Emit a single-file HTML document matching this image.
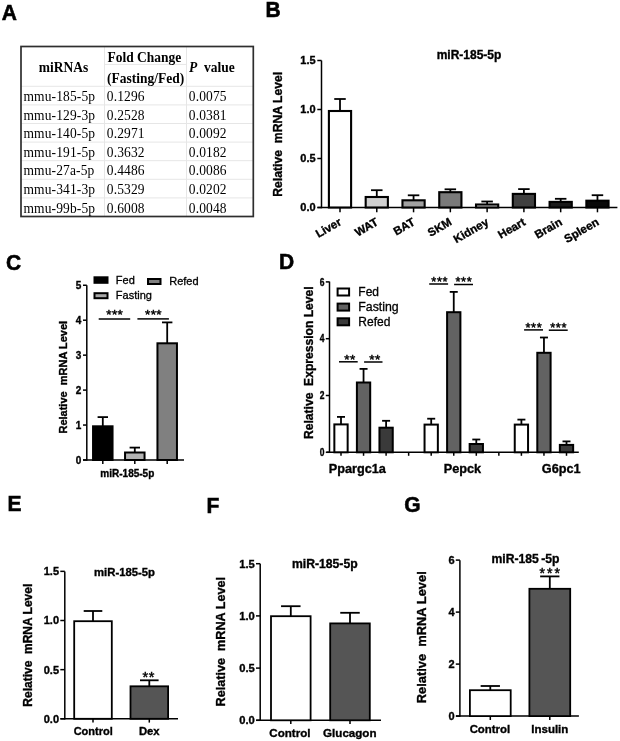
<!DOCTYPE html>
<html><head><meta charset="utf-8"><style>
html,body{margin:0;padding:0;background:#fff;width:620px;height:741px;overflow:hidden}
svg{display:block;will-change:transform;filter:blur(0.3px)}
</style></head><body>
<svg width="620" height="741" viewBox="0 0 620 741" style="white-space:pre">
<rect width="620" height="741" fill="#fff"/>
<text transform="translate(1.8,19.6) scale(1,1.06)" font-family="Liberation Sans" font-size="21" font-weight="bold" text-anchor="start" fill="#000" stroke="#000" stroke-width="0.55">A</text>
<text transform="translate(265.5,17.3) scale(1,1.06)" font-family="Liberation Sans" font-size="21" font-weight="bold" text-anchor="start" fill="#000" stroke="#000" stroke-width="0.55">B</text>
<text transform="translate(6,270) scale(1,1.06)" font-family="Liberation Sans" font-size="21" font-weight="bold" text-anchor="start" fill="#000" stroke="#000" stroke-width="0.55">C</text>
<text transform="translate(279,269.3) scale(1,1.06)" font-family="Liberation Sans" font-size="21" font-weight="bold" text-anchor="start" fill="#000" stroke="#000" stroke-width="0.55">D</text>
<text transform="translate(7.5,510.5) scale(1,1.06)" font-family="Liberation Sans" font-size="21" font-weight="bold" text-anchor="start" fill="#000" stroke="#000" stroke-width="0.55">E</text>
<text transform="translate(206.5,512.6) scale(1,1.06)" font-family="Liberation Sans" font-size="21" font-weight="bold" text-anchor="start" fill="#000" stroke="#000" stroke-width="0.55">F</text>
<text transform="translate(404.3,511.5) scale(1,1.06)" font-family="Liberation Sans" font-size="21" font-weight="bold" text-anchor="start" fill="#000" stroke="#000" stroke-width="0.55">G</text>
<line x1="21" y1="104.89999999999999" x2="253.3" y2="104.89999999999999" stroke="#e6e6e6" stroke-width="1"/>
<line x1="21" y1="123.5" x2="253.3" y2="123.5" stroke="#e6e6e6" stroke-width="1"/>
<line x1="21" y1="142.1" x2="253.3" y2="142.1" stroke="#e6e6e6" stroke-width="1"/>
<line x1="21" y1="160.7" x2="253.3" y2="160.7" stroke="#e6e6e6" stroke-width="1"/>
<line x1="21" y1="179.29999999999998" x2="253.3" y2="179.29999999999998" stroke="#e6e6e6" stroke-width="1"/>
<line x1="21" y1="197.89999999999998" x2="253.3" y2="197.89999999999998" stroke="#e6e6e6" stroke-width="1"/>
<line x1="21" y1="86.3" x2="253.3" y2="86.3" stroke="#e6e6e6" stroke-width="1"/>
<line x1="104.5" y1="64.4" x2="186.5" y2="64.4" stroke="#e6e6e6" stroke-width="1"/>
<line x1="104.5" y1="46.5" x2="104.5" y2="216.5" stroke="#e6e6e6" stroke-width="1"/>
<line x1="186.5" y1="46.5" x2="186.5" y2="216.5" stroke="#e6e6e6" stroke-width="1"/>
<rect x="21" y="46.5" width="232.3" height="170.0" fill="none" stroke="#2e2e2e" stroke-width="1.7"/>
<text transform="translate(63.5,72) scale(1,1.05)" font-family="Liberation Serif" font-size="13.5" font-weight="bold" text-anchor="middle" fill="#000">miRNAs</text>
<text transform="translate(107.5,62) scale(1,1.05)" font-family="Liberation Serif" font-size="13.5" font-weight="bold" text-anchor="start" fill="#000">Fold Change</text>
<text transform="translate(107,83) scale(1,1.05)" font-family="Liberation Serif" font-size="13.5" font-weight="bold" text-anchor="start" fill="#000">(Fasting/Fed)</text>
<text transform="translate(189,71.5) scale(1,1.05)" font-family="Liberation Serif" font-size="13.5" font-weight="bold" fill="#000"><tspan font-style="italic">P</tspan>&#160; value</text>
<text transform="translate(23.5,100.89999999999999) scale(1,1.08)" font-family="Liberation Serif" font-size="13.5" font-weight="normal" text-anchor="start" fill="#000" letter-spacing="0.12">mmu-185-5p</text>
<text transform="translate(106.8,100.89999999999999) scale(1,1.08)" font-family="Liberation Serif" font-size="13.5" font-weight="normal" text-anchor="start" fill="#000" letter-spacing="0.12">0.1296</text>
<text transform="translate(188.8,100.89999999999999) scale(1,1.08)" font-family="Liberation Serif" font-size="13.5" font-weight="normal" text-anchor="start" fill="#000" letter-spacing="0.12">0.0075</text>
<text transform="translate(23.5,119.49999999999999) scale(1,1.08)" font-family="Liberation Serif" font-size="13.5" font-weight="normal" text-anchor="start" fill="#000" letter-spacing="0.12">mmu-129-3p</text>
<text transform="translate(106.8,119.49999999999999) scale(1,1.08)" font-family="Liberation Serif" font-size="13.5" font-weight="normal" text-anchor="start" fill="#000" letter-spacing="0.12">0.2528</text>
<text transform="translate(188.8,119.49999999999999) scale(1,1.08)" font-family="Liberation Serif" font-size="13.5" font-weight="normal" text-anchor="start" fill="#000" letter-spacing="0.12">0.0381</text>
<text transform="translate(23.5,138.1) scale(1,1.08)" font-family="Liberation Serif" font-size="13.5" font-weight="normal" text-anchor="start" fill="#000" letter-spacing="0.12">mmu-140-5p</text>
<text transform="translate(106.8,138.1) scale(1,1.08)" font-family="Liberation Serif" font-size="13.5" font-weight="normal" text-anchor="start" fill="#000" letter-spacing="0.12">0.2971</text>
<text transform="translate(188.8,138.1) scale(1,1.08)" font-family="Liberation Serif" font-size="13.5" font-weight="normal" text-anchor="start" fill="#000" letter-spacing="0.12">0.0092</text>
<text transform="translate(23.5,156.7) scale(1,1.08)" font-family="Liberation Serif" font-size="13.5" font-weight="normal" text-anchor="start" fill="#000" letter-spacing="0.12">mmu-191-5p</text>
<text transform="translate(106.8,156.7) scale(1,1.08)" font-family="Liberation Serif" font-size="13.5" font-weight="normal" text-anchor="start" fill="#000" letter-spacing="0.12">0.3632</text>
<text transform="translate(188.8,156.7) scale(1,1.08)" font-family="Liberation Serif" font-size="13.5" font-weight="normal" text-anchor="start" fill="#000" letter-spacing="0.12">0.0182</text>
<text transform="translate(23.5,175.29999999999998) scale(1,1.08)" font-family="Liberation Serif" font-size="13.5" font-weight="normal" text-anchor="start" fill="#000" letter-spacing="0.12">mmu-27a-5p</text>
<text transform="translate(106.8,175.29999999999998) scale(1,1.08)" font-family="Liberation Serif" font-size="13.5" font-weight="normal" text-anchor="start" fill="#000" letter-spacing="0.12">0.4486</text>
<text transform="translate(188.8,175.29999999999998) scale(1,1.08)" font-family="Liberation Serif" font-size="13.5" font-weight="normal" text-anchor="start" fill="#000" letter-spacing="0.12">0.0086</text>
<text transform="translate(23.5,193.89999999999998) scale(1,1.08)" font-family="Liberation Serif" font-size="13.5" font-weight="normal" text-anchor="start" fill="#000" letter-spacing="0.12">mmu-341-3p</text>
<text transform="translate(106.8,193.89999999999998) scale(1,1.08)" font-family="Liberation Serif" font-size="13.5" font-weight="normal" text-anchor="start" fill="#000" letter-spacing="0.12">0.5329</text>
<text transform="translate(188.8,193.89999999999998) scale(1,1.08)" font-family="Liberation Serif" font-size="13.5" font-weight="normal" text-anchor="start" fill="#000" letter-spacing="0.12">0.0202</text>
<text transform="translate(23.5,212.49999999999997) scale(1,1.08)" font-family="Liberation Serif" font-size="13.5" font-weight="normal" text-anchor="start" fill="#000" letter-spacing="0.12">mmu-99b-5p</text>
<text transform="translate(106.8,212.49999999999997) scale(1,1.08)" font-family="Liberation Serif" font-size="13.5" font-weight="normal" text-anchor="start" fill="#000" letter-spacing="0.12">0.6008</text>
<text transform="translate(188.8,212.49999999999997) scale(1,1.08)" font-family="Liberation Serif" font-size="13.5" font-weight="normal" text-anchor="start" fill="#000" letter-spacing="0.12">0.0048</text>
<line x1="321.5" y1="60.5" x2="321.5" y2="208.25" stroke="#000" stroke-width="1.5"/>
<line x1="317.5" y1="207.5" x2="617.4" y2="207.5" stroke="#000" stroke-width="1.7"/>
<line x1="317.3" y1="207.5" x2="321.5" y2="207.5" stroke="#000" stroke-width="1.5"/>
<text x="315.6" y="211.4" font-family="Liberation Sans" font-size="11" font-weight="bold" text-anchor="end" fill="#000" stroke="#000" stroke-width="0.35">0.0</text>
<line x1="317.3" y1="158.5" x2="321.5" y2="158.5" stroke="#000" stroke-width="1.5"/>
<text x="315.6" y="162.4" font-family="Liberation Sans" font-size="11" font-weight="bold" text-anchor="end" fill="#000" stroke="#000" stroke-width="0.35">0.5</text>
<line x1="317.3" y1="109.5" x2="321.5" y2="109.5" stroke="#000" stroke-width="1.5"/>
<text x="315.6" y="113.4" font-family="Liberation Sans" font-size="11" font-weight="bold" text-anchor="end" fill="#000" stroke="#000" stroke-width="0.35">1.0</text>
<line x1="317.3" y1="60.5" x2="321.5" y2="60.5" stroke="#000" stroke-width="1.5"/>
<text x="315.6" y="64.4" font-family="Liberation Sans" font-size="11" font-weight="bold" text-anchor="end" fill="#000" stroke="#000" stroke-width="0.35">1.5</text>
<text x="469" y="58.7" font-family="Liberation Sans" font-size="12" font-weight="bold" text-anchor="middle" fill="#000" stroke="#000" stroke-width="0.35">miR-185-5p</text>
<text transform="translate(278,134.3) rotate(-90)" font-family="Liberation Sans" font-size="12.2" font-weight="bold" text-anchor="middle" dominant-baseline="central" fill="#000" stroke="#000" stroke-width="0.35">Relative&#160; mRNA Level</text>
<line x1="340.0" y1="99" x2="340.0" y2="111" stroke="#000" stroke-width="1.8"/>
<line x1="334.25" y1="99" x2="345.75" y2="99" stroke="#000" stroke-width="1.8"/>
<rect x="328.9" y="111" width="22.2" height="96.5" fill="#ffffff" stroke="#000" stroke-width="2.1"/>
<line x1="340.0" y1="207.5" x2="340.0" y2="212.3" stroke="#000" stroke-width="1.5"/>
<text transform="translate(342.3,224.3) rotate(-30)" font-family="Liberation Sans" font-size="11.5" font-weight="bold" text-anchor="end" fill="#000" stroke="#000" stroke-width="0.35">Liver</text>
<line x1="376.78" y1="190.2" x2="376.78" y2="197" stroke="#000" stroke-width="1.8"/>
<line x1="371.03" y1="190.2" x2="382.53" y2="190.2" stroke="#000" stroke-width="1.8"/>
<rect x="365.67999999999995" y="197" width="22.2" height="10.5" fill="#d0d0d0" stroke="#000" stroke-width="2.1"/>
<line x1="376.78" y1="207.5" x2="376.78" y2="212.3" stroke="#000" stroke-width="1.5"/>
<text transform="translate(379.08,224.3) rotate(-30)" font-family="Liberation Sans" font-size="11.5" font-weight="bold" text-anchor="end" fill="#000" stroke="#000" stroke-width="0.35">WAT</text>
<line x1="413.56" y1="195.3" x2="413.56" y2="200.3" stroke="#000" stroke-width="1.8"/>
<line x1="407.81" y1="195.3" x2="419.31" y2="195.3" stroke="#000" stroke-width="1.8"/>
<rect x="402.46" y="200.3" width="22.2" height="7.199999999999989" fill="#a0a0a0" stroke="#000" stroke-width="2.1"/>
<line x1="413.56" y1="207.5" x2="413.56" y2="212.3" stroke="#000" stroke-width="1.5"/>
<text transform="translate(415.86,224.3) rotate(-30)" font-family="Liberation Sans" font-size="11.5" font-weight="bold" text-anchor="end" fill="#000" stroke="#000" stroke-width="0.35">BAT</text>
<line x1="450.34000000000003" y1="189.3" x2="450.34000000000003" y2="192.2" stroke="#000" stroke-width="1.8"/>
<line x1="444.59000000000003" y1="189.3" x2="456.09000000000003" y2="189.3" stroke="#000" stroke-width="1.8"/>
<rect x="439.24" y="192.2" width="22.2" height="15.300000000000011" fill="#7a7a7a" stroke="#000" stroke-width="2.1"/>
<line x1="450.34000000000003" y1="207.5" x2="450.34000000000003" y2="212.3" stroke="#000" stroke-width="1.5"/>
<text transform="translate(452.64000000000004,224.3) rotate(-30)" font-family="Liberation Sans" font-size="11.5" font-weight="bold" text-anchor="end" fill="#000" stroke="#000" stroke-width="0.35">SKM</text>
<line x1="487.12" y1="201.5" x2="487.12" y2="204.5" stroke="#000" stroke-width="1.8"/>
<line x1="481.37" y1="201.5" x2="492.87" y2="201.5" stroke="#000" stroke-width="1.8"/>
<rect x="476.02" y="204.5" width="22.2" height="3.0" fill="#d8d8d8" stroke="#000" stroke-width="2.1"/>
<line x1="487.12" y1="207.5" x2="487.12" y2="212.3" stroke="#000" stroke-width="1.5"/>
<text transform="translate(489.42,224.3) rotate(-30)" font-family="Liberation Sans" font-size="11.5" font-weight="bold" text-anchor="end" fill="#000" stroke="#000" stroke-width="0.35">Kidney</text>
<line x1="523.9" y1="189.1" x2="523.9" y2="193.9" stroke="#000" stroke-width="1.8"/>
<line x1="518.15" y1="189.1" x2="529.65" y2="189.1" stroke="#000" stroke-width="1.8"/>
<rect x="512.8" y="193.9" width="22.2" height="13.599999999999994" fill="#404040" stroke="#000" stroke-width="2.1"/>
<line x1="523.9" y1="207.5" x2="523.9" y2="212.3" stroke="#000" stroke-width="1.5"/>
<text transform="translate(526.1999999999999,224.3) rotate(-30)" font-family="Liberation Sans" font-size="11.5" font-weight="bold" text-anchor="end" fill="#000" stroke="#000" stroke-width="0.35">Heart</text>
<line x1="560.6800000000001" y1="198.8" x2="560.6800000000001" y2="201.9" stroke="#000" stroke-width="1.8"/>
<line x1="554.9300000000001" y1="198.8" x2="566.4300000000001" y2="198.8" stroke="#000" stroke-width="1.8"/>
<rect x="549.58" y="201.9" width="22.2" height="5.599999999999994" fill="#1a1a1a" stroke="#000" stroke-width="2.1"/>
<line x1="560.6800000000001" y1="207.5" x2="560.6800000000001" y2="212.3" stroke="#000" stroke-width="1.5"/>
<text transform="translate(562.98,224.3) rotate(-30)" font-family="Liberation Sans" font-size="11.5" font-weight="bold" text-anchor="end" fill="#000" stroke="#000" stroke-width="0.35">Brain</text>
<line x1="597.46" y1="195.2" x2="597.46" y2="200.7" stroke="#000" stroke-width="1.8"/>
<line x1="591.71" y1="195.2" x2="603.21" y2="195.2" stroke="#000" stroke-width="1.8"/>
<rect x="586.36" y="200.7" width="22.2" height="6.800000000000011" fill="#080808" stroke="#000" stroke-width="2.1"/>
<line x1="597.46" y1="207.5" x2="597.46" y2="212.3" stroke="#000" stroke-width="1.5"/>
<text transform="translate(599.76,224.3) rotate(-30)" font-family="Liberation Sans" font-size="11.5" font-weight="bold" text-anchor="end" fill="#000" stroke="#000" stroke-width="0.35">Spleen</text>
<line x1="86.8" y1="285.3" x2="86.8" y2="460.75" stroke="#000" stroke-width="1.5"/>
<line x1="83" y1="460" x2="184" y2="460" stroke="#000" stroke-width="1.5"/>
<line x1="83" y1="460.0" x2="86.8" y2="460.0" stroke="#000" stroke-width="1.5"/>
<text x="81.3" y="463.6" font-family="Liberation Sans" font-size="10" font-weight="bold" text-anchor="end" fill="#000" stroke="#000" stroke-width="0.35">0</text>
<line x1="83" y1="425.05" x2="86.8" y2="425.05" stroke="#000" stroke-width="1.5"/>
<text x="81.3" y="428.65000000000003" font-family="Liberation Sans" font-size="10" font-weight="bold" text-anchor="end" fill="#000" stroke="#000" stroke-width="0.35">1</text>
<line x1="83" y1="390.1" x2="86.8" y2="390.1" stroke="#000" stroke-width="1.5"/>
<text x="81.3" y="393.70000000000005" font-family="Liberation Sans" font-size="10" font-weight="bold" text-anchor="end" fill="#000" stroke="#000" stroke-width="0.35">2</text>
<line x1="83" y1="355.15" x2="86.8" y2="355.15" stroke="#000" stroke-width="1.5"/>
<text x="81.3" y="358.75" font-family="Liberation Sans" font-size="10" font-weight="bold" text-anchor="end" fill="#000" stroke="#000" stroke-width="0.35">3</text>
<line x1="83" y1="320.2" x2="86.8" y2="320.2" stroke="#000" stroke-width="1.5"/>
<text x="81.3" y="323.8" font-family="Liberation Sans" font-size="10" font-weight="bold" text-anchor="end" fill="#000" stroke="#000" stroke-width="0.35">4</text>
<line x1="83" y1="285.25" x2="86.8" y2="285.25" stroke="#000" stroke-width="1.5"/>
<text x="81.3" y="288.85" font-family="Liberation Sans" font-size="10" font-weight="bold" text-anchor="end" fill="#000" stroke="#000" stroke-width="0.35">5</text>
<text transform="translate(62.5,377.2) rotate(-90)" font-family="Liberation Sans" font-size="11" font-weight="bold" text-anchor="middle" dominant-baseline="central" fill="#000" stroke="#000" stroke-width="0.35">Relative&#160; mRNA Level</text>
<line x1="102.8" y1="417.1" x2="102.8" y2="426.3" stroke="#000" stroke-width="1.8"/>
<line x1="97.6" y1="417.1" x2="108.0" y2="417.1" stroke="#000" stroke-width="1.8"/>
<rect x="93.05" y="426.3" width="19.5" height="33.69999999999999" fill="#000000" stroke="#000" stroke-width="2"/>
<line x1="102.8" y1="460" x2="102.8" y2="463.9" stroke="#000" stroke-width="1.5"/>
<line x1="134.8" y1="447.6" x2="134.8" y2="452.5" stroke="#000" stroke-width="1.8"/>
<line x1="129.60000000000002" y1="447.6" x2="140.0" y2="447.6" stroke="#000" stroke-width="1.8"/>
<rect x="125.05000000000001" y="452.5" width="19.5" height="7.5" fill="#b4b4b4" stroke="#000" stroke-width="2"/>
<line x1="134.8" y1="460" x2="134.8" y2="463.9" stroke="#000" stroke-width="1.5"/>
<line x1="167.2" y1="322.4" x2="167.2" y2="343.3" stroke="#000" stroke-width="1.8"/>
<line x1="162.0" y1="322.4" x2="172.39999999999998" y2="322.4" stroke="#000" stroke-width="1.8"/>
<rect x="157.45" y="343.3" width="19.5" height="116.69999999999999" fill="#808080" stroke="#000" stroke-width="2"/>
<line x1="167.2" y1="460" x2="167.2" y2="463.9" stroke="#000" stroke-width="1.5"/>
<text x="127.3" y="476.8" font-family="Liberation Sans" font-size="10" font-weight="bold" text-anchor="middle" fill="#000" stroke="#000" stroke-width="0.35">miR-185-5p</text>
<rect x="94.5" y="277.3" width="13" height="5.5" fill="#000" stroke="#000" stroke-width="2"/>
<rect x="94.5" y="293.2" width="13" height="5" fill="#a8a8a8" stroke="#000" stroke-width="2"/>
<rect x="148" y="279" width="12.5" height="5" fill="#808080" stroke="#000" stroke-width="2"/>
<text x="115.8" y="283.7" font-family="Liberation Sans" font-size="11" font-weight="normal" text-anchor="start" fill="#000" stroke="#000" stroke-width="0.3">Fed</text>
<text x="115.8" y="298.8" font-family="Liberation Sans" font-size="11" font-weight="normal" text-anchor="start" fill="#000" stroke="#000" stroke-width="0.3">Fasting</text>
<text x="169.2" y="284.8" font-family="Liberation Sans" font-size="11" font-weight="normal" text-anchor="start" fill="#000" stroke="#000" stroke-width="0.3">Refed</text>
<line x1="98.7" y1="318.9" x2="130.2" y2="318.9" stroke="#000" stroke-width="1.5"/>
<line x1="137.4" y1="318.9" x2="168.9" y2="318.9" stroke="#000" stroke-width="1.5"/>
<text x="114.8" y="319.3" font-family="Liberation Sans" font-size="13.5" text-anchor="middle" letter-spacing="0.4" fill="#000" stroke="#000" stroke-width="0.45">***</text>
<text x="153.5" y="319.3" font-family="Liberation Sans" font-size="13.5" text-anchor="middle" letter-spacing="0.4" fill="#000" stroke="#000" stroke-width="0.45">***</text>
<line x1="329.5" y1="281.6" x2="329.5" y2="453.05" stroke="#000" stroke-width="1.5"/>
<line x1="326.5" y1="452.3" x2="578.8" y2="452.3" stroke="#000" stroke-width="1.5"/>
<line x1="325.8" y1="452.3" x2="329.5" y2="452.3" stroke="#000" stroke-width="1.5"/>
<text transform="translate(324.4,455.90000000000003) scale(0.85,1)" font-family="Liberation Sans" font-size="10" font-weight="bold" text-anchor="end" fill="#000" stroke="#000" stroke-width="0.35">0</text>
<line x1="325.8" y1="395.5" x2="329.5" y2="395.5" stroke="#000" stroke-width="1.5"/>
<text transform="translate(324.4,399.1) scale(0.85,1)" font-family="Liberation Sans" font-size="10" font-weight="bold" text-anchor="end" fill="#000" stroke="#000" stroke-width="0.35">2</text>
<line x1="325.8" y1="338.70000000000005" x2="329.5" y2="338.70000000000005" stroke="#000" stroke-width="1.5"/>
<text transform="translate(324.4,342.30000000000007) scale(0.85,1)" font-family="Liberation Sans" font-size="10" font-weight="bold" text-anchor="end" fill="#000" stroke="#000" stroke-width="0.35">4</text>
<line x1="325.8" y1="281.90000000000003" x2="329.5" y2="281.90000000000003" stroke="#000" stroke-width="1.5"/>
<text transform="translate(324.4,285.50000000000006) scale(0.85,1)" font-family="Liberation Sans" font-size="10" font-weight="bold" text-anchor="end" fill="#000" stroke="#000" stroke-width="0.35">6</text>
<text transform="translate(309.2,362.7) rotate(-90)" font-family="Liberation Sans" font-size="12.1" font-weight="bold" text-anchor="middle" dominant-baseline="central" fill="#000" stroke="#000" stroke-width="0.35">Relative&#160; Expression Level</text>
<line x1="341.0" y1="452.3" x2="341.0" y2="455.8" stroke="#000" stroke-width="1.5"/>
<line x1="363.55" y1="452.3" x2="363.55" y2="455.8" stroke="#000" stroke-width="1.5"/>
<line x1="386.1" y1="452.3" x2="386.1" y2="455.8" stroke="#000" stroke-width="1.5"/>
<line x1="408.65" y1="452.3" x2="408.65" y2="455.8" stroke="#000" stroke-width="1.5"/>
<line x1="431.2" y1="452.3" x2="431.2" y2="455.8" stroke="#000" stroke-width="1.5"/>
<line x1="453.75" y1="452.3" x2="453.75" y2="455.8" stroke="#000" stroke-width="1.5"/>
<line x1="476.3" y1="452.3" x2="476.3" y2="455.8" stroke="#000" stroke-width="1.5"/>
<line x1="498.85" y1="452.3" x2="498.85" y2="455.8" stroke="#000" stroke-width="1.5"/>
<line x1="521.4" y1="452.3" x2="521.4" y2="455.8" stroke="#000" stroke-width="1.5"/>
<line x1="543.95" y1="452.3" x2="543.95" y2="455.8" stroke="#000" stroke-width="1.5"/>
<line x1="566.5" y1="452.3" x2="566.5" y2="455.8" stroke="#000" stroke-width="1.5"/>
<line x1="341.0" y1="416.9" x2="341.0" y2="424.4" stroke="#000" stroke-width="1.8"/>
<line x1="337.0" y1="416.9" x2="345.0" y2="416.9" stroke="#000" stroke-width="1.8"/>
<rect x="334.35" y="424.4" width="13.3" height="27.900000000000034" fill="#ffffff" stroke="#000" stroke-width="2"/>
<line x1="363.55" y1="368.9" x2="363.55" y2="382.5" stroke="#000" stroke-width="1.8"/>
<line x1="359.55" y1="368.9" x2="367.55" y2="368.9" stroke="#000" stroke-width="1.8"/>
<rect x="356.90000000000003" y="382.5" width="13.3" height="69.80000000000001" fill="#626262" stroke="#000" stroke-width="2"/>
<line x1="386.1" y1="420.8" x2="386.1" y2="427.7" stroke="#000" stroke-width="1.8"/>
<line x1="382.1" y1="420.8" x2="390.1" y2="420.8" stroke="#000" stroke-width="1.8"/>
<rect x="379.45000000000005" y="427.7" width="13.3" height="24.600000000000023" fill="#3a3a3a" stroke="#000" stroke-width="2"/>
<line x1="431.2" y1="418.7" x2="431.2" y2="424.6" stroke="#000" stroke-width="1.8"/>
<line x1="427.2" y1="418.7" x2="435.2" y2="418.7" stroke="#000" stroke-width="1.8"/>
<rect x="424.55" y="424.6" width="13.3" height="27.69999999999999" fill="#ffffff" stroke="#000" stroke-width="2"/>
<line x1="453.75" y1="291.9" x2="453.75" y2="312.2" stroke="#000" stroke-width="1.8"/>
<line x1="449.75" y1="291.9" x2="457.75" y2="291.9" stroke="#000" stroke-width="1.8"/>
<rect x="447.1" y="312.2" width="13.3" height="140.10000000000002" fill="#626262" stroke="#000" stroke-width="2"/>
<line x1="476.3" y1="439.5" x2="476.3" y2="444" stroke="#000" stroke-width="1.8"/>
<line x1="472.3" y1="439.5" x2="480.3" y2="439.5" stroke="#000" stroke-width="1.8"/>
<rect x="469.65000000000003" y="444" width="13.3" height="8.300000000000011" fill="#3a3a3a" stroke="#000" stroke-width="2"/>
<line x1="521.4" y1="419.6" x2="521.4" y2="424.6" stroke="#000" stroke-width="1.8"/>
<line x1="517.4" y1="419.6" x2="525.4" y2="419.6" stroke="#000" stroke-width="1.8"/>
<rect x="514.75" y="424.6" width="13.3" height="27.69999999999999" fill="#ffffff" stroke="#000" stroke-width="2"/>
<line x1="543.95" y1="337.5" x2="543.95" y2="352.8" stroke="#000" stroke-width="1.8"/>
<line x1="539.95" y1="337.5" x2="547.95" y2="337.5" stroke="#000" stroke-width="1.8"/>
<rect x="537.3000000000001" y="352.8" width="13.3" height="99.5" fill="#626262" stroke="#000" stroke-width="2"/>
<line x1="566.5" y1="441.4" x2="566.5" y2="444.9" stroke="#000" stroke-width="1.8"/>
<line x1="562.5" y1="441.4" x2="570.5" y2="441.4" stroke="#000" stroke-width="1.8"/>
<rect x="559.85" y="444.9" width="13.3" height="7.400000000000034" fill="#3a3a3a" stroke="#000" stroke-width="2"/>
<rect x="337.6" y="288.5" width="11.5" height="7" fill="#ffffff" stroke="#000" stroke-width="2"/>
<rect x="337.6" y="303.6" width="11.5" height="7" fill="#626262" stroke="#000" stroke-width="2"/>
<rect x="337.6" y="318.3" width="11.5" height="7" fill="#3a3a3a" stroke="#000" stroke-width="2"/>
<text x="358.3" y="295.7" font-family="Liberation Sans" font-size="12" font-weight="normal" text-anchor="start" fill="#000" stroke="#000" stroke-width="0.3">Fed</text>
<text x="358.3" y="310.8" font-family="Liberation Sans" font-size="12.3" font-weight="normal" text-anchor="start" fill="#000" stroke="#000" stroke-width="0.3">Fasting</text>
<text x="358.3" y="325.5" font-family="Liberation Sans" font-size="12" font-weight="normal" text-anchor="start" fill="#000" stroke="#000" stroke-width="0.3">Refed</text>
<line x1="339" y1="361.8" x2="357.7" y2="361.8" stroke="#000" stroke-width="1.5"/>
<line x1="364.1" y1="362" x2="382.5" y2="362" stroke="#000" stroke-width="1.5"/>
<line x1="429.2" y1="284" x2="448.1" y2="284" stroke="#000" stroke-width="1.5"/>
<line x1="454.1" y1="284.5" x2="473" y2="284.5" stroke="#000" stroke-width="1.5"/>
<line x1="524.1" y1="329.9" x2="543" y2="329.9" stroke="#000" stroke-width="1.5"/>
<line x1="548.8" y1="330.2" x2="567.7" y2="330.2" stroke="#000" stroke-width="1.5"/>
<text x="349.9" y="363.5" font-family="Liberation Sans" font-size="13.5" text-anchor="middle" letter-spacing="0.5" fill="#000" stroke="#000" stroke-width="0.45">**</text>
<text x="375" y="363.5" font-family="Liberation Sans" font-size="13.5" text-anchor="middle" letter-spacing="0.5" fill="#000" stroke="#000" stroke-width="0.45">**</text>
<text x="439.7" y="285.6" font-family="Liberation Sans" font-size="12.8" text-anchor="middle" letter-spacing="0.6" fill="#000" stroke="#000" stroke-width="0.45">***</text>
<text x="463.9" y="285.6" font-family="Liberation Sans" font-size="12.8" text-anchor="middle" letter-spacing="0.6" fill="#000" stroke="#000" stroke-width="0.45">***</text>
<text x="533.9" y="331.5" font-family="Liberation Sans" font-size="12.8" text-anchor="middle" letter-spacing="0.6" fill="#000" stroke="#000" stroke-width="0.45">***</text>
<text x="558.6" y="331.5" font-family="Liberation Sans" font-size="12.8" text-anchor="middle" letter-spacing="0.6" fill="#000" stroke="#000" stroke-width="0.45">***</text>
<text x="328.8" y="472.8" font-family="Liberation Sans" font-size="12.7" font-weight="bold" text-anchor="start" fill="#000" stroke="#000" stroke-width="0.35">Ppargc1a</text>
<text x="443.8" y="472.8" font-family="Liberation Sans" font-size="12.7" font-weight="bold" text-anchor="start" fill="#000" stroke="#000" stroke-width="0.35">Pepck</text>
<text x="541.8" y="472.8" font-family="Liberation Sans" font-size="12.7" font-weight="bold" text-anchor="start" fill="#000" stroke="#000" stroke-width="0.35">G6pc1</text>
<line x1="64.8" y1="571.5" x2="64.8" y2="719.55" stroke="#000" stroke-width="1.5"/>
<line x1="60.5" y1="718.8" x2="178" y2="718.8" stroke="#000" stroke-width="1.5"/>
<line x1="60.3" y1="718.8" x2="64.8" y2="718.8" stroke="#000" stroke-width="1.5"/>
<text x="59" y="722.6999999999999" font-family="Liberation Sans" font-size="11" font-weight="bold" text-anchor="end" fill="#000" stroke="#000" stroke-width="0.35">0.0</text>
<line x1="60.3" y1="669.65" x2="64.8" y2="669.65" stroke="#000" stroke-width="1.5"/>
<text x="59" y="673.55" font-family="Liberation Sans" font-size="11" font-weight="bold" text-anchor="end" fill="#000" stroke="#000" stroke-width="0.35">0.5</text>
<line x1="60.3" y1="620.5" x2="64.8" y2="620.5" stroke="#000" stroke-width="1.5"/>
<text x="59" y="624.4" font-family="Liberation Sans" font-size="11" font-weight="bold" text-anchor="end" fill="#000" stroke="#000" stroke-width="0.35">1.0</text>
<line x1="60.3" y1="571.3499999999999" x2="64.8" y2="571.3499999999999" stroke="#000" stroke-width="1.5"/>
<text x="59" y="575.2499999999999" font-family="Liberation Sans" font-size="11" font-weight="bold" text-anchor="end" fill="#000" stroke="#000" stroke-width="0.35">1.5</text>
<text transform="translate(27.5,645.2) rotate(-90)" font-family="Liberation Sans" font-size="12" font-weight="bold" text-anchor="middle" dominant-baseline="central" fill="#000" stroke="#000" stroke-width="0.35">Relative&#160; mRNA Level</text>
<text x="124.5" y="575.9" font-family="Liberation Sans" font-size="11.3" font-weight="bold" text-anchor="middle" fill="#000" stroke="#000" stroke-width="0.35">miR-185-5p</text>
<line x1="93" y1="611" x2="93" y2="621.2" stroke="#000" stroke-width="1.8"/>
<line x1="83.7" y1="611" x2="102.3" y2="611" stroke="#000" stroke-width="1.8"/>
<rect x="74.2" y="621.2" width="37.6" height="97.59999999999991" fill="#ffffff" stroke="#000" stroke-width="1.8"/>
<line x1="93" y1="718.8" x2="93" y2="722.6" stroke="#000" stroke-width="1.5"/>
<line x1="149.3" y1="680.3" x2="149.3" y2="686.3" stroke="#000" stroke-width="1.8"/>
<line x1="140.0" y1="680.3" x2="158.60000000000002" y2="680.3" stroke="#000" stroke-width="1.8"/>
<rect x="130.5" y="686.3" width="37.6" height="32.5" fill="#555555" stroke="#000" stroke-width="1.8"/>
<line x1="149.3" y1="718.8" x2="149.3" y2="722.6" stroke="#000" stroke-width="1.5"/>
<text x="93.2" y="735.4" font-family="Liberation Sans" font-size="11" font-weight="bold" text-anchor="middle" fill="#000" stroke="#000" stroke-width="0.35">Control</text>
<text x="149.3" y="735.4" font-family="Liberation Sans" font-size="11.3" font-weight="bold" text-anchor="middle" fill="#000" stroke="#000" stroke-width="0.35">Dex</text>
<text x="148.7" y="682" font-family="Liberation Sans" font-size="14.5" text-anchor="middle" letter-spacing="0.6" fill="#000" stroke="#000" stroke-width="0.45">**</text>
<line x1="260.2" y1="563.7" x2="260.2" y2="721.05" stroke="#000" stroke-width="1.5"/>
<line x1="256.2" y1="720.3" x2="381" y2="720.3" stroke="#000" stroke-width="1.5"/>
<line x1="256" y1="720.3" x2="260.2" y2="720.3" stroke="#000" stroke-width="1.5"/>
<text x="254.8" y="724.1999999999999" font-family="Liberation Sans" font-size="11.2" font-weight="bold" text-anchor="end" fill="#000" stroke="#000" stroke-width="0.35">0.0</text>
<line x1="256" y1="668.0999999999999" x2="260.2" y2="668.0999999999999" stroke="#000" stroke-width="1.5"/>
<text x="254.8" y="671.9999999999999" font-family="Liberation Sans" font-size="11.2" font-weight="bold" text-anchor="end" fill="#000" stroke="#000" stroke-width="0.35">0.5</text>
<line x1="256" y1="615.9" x2="260.2" y2="615.9" stroke="#000" stroke-width="1.5"/>
<text x="254.8" y="619.8" font-family="Liberation Sans" font-size="11.2" font-weight="bold" text-anchor="end" fill="#000" stroke="#000" stroke-width="0.35">1.0</text>
<line x1="256" y1="563.6999999999999" x2="260.2" y2="563.6999999999999" stroke="#000" stroke-width="1.5"/>
<text x="254.8" y="567.5999999999999" font-family="Liberation Sans" font-size="11.2" font-weight="bold" text-anchor="end" fill="#000" stroke="#000" stroke-width="0.35">1.5</text>
<text transform="translate(221.2,641.7) rotate(-90)" font-family="Liberation Sans" font-size="12.65" font-weight="bold" text-anchor="middle" dominant-baseline="central" fill="#000" stroke="#000" stroke-width="0.35">Relative&#160; mRNA Level</text>
<text x="324.8" y="568" font-family="Liberation Sans" font-size="12.2" font-weight="bold" text-anchor="middle" fill="#000" stroke="#000" stroke-width="0.35">miR-185-5p</text>
<line x1="290.8" y1="606.2" x2="290.8" y2="616.2" stroke="#000" stroke-width="1.8"/>
<line x1="281.05" y1="606.2" x2="300.55" y2="606.2" stroke="#000" stroke-width="1.8"/>
<rect x="271.0" y="616.2" width="39.6" height="104.09999999999991" fill="#ffffff" stroke="#000" stroke-width="1.8"/>
<line x1="290.8" y1="720.3" x2="290.8" y2="724" stroke="#000" stroke-width="1.5"/>
<line x1="350" y1="612.8" x2="350" y2="623.4" stroke="#000" stroke-width="1.8"/>
<line x1="340.25" y1="612.8" x2="359.75" y2="612.8" stroke="#000" stroke-width="1.8"/>
<rect x="330.2" y="623.4" width="39.6" height="96.89999999999998" fill="#555555" stroke="#000" stroke-width="1.8"/>
<line x1="350" y1="720.3" x2="350" y2="724" stroke="#000" stroke-width="1.5"/>
<text x="289.9" y="737.1" font-family="Liberation Sans" font-size="11.6" font-weight="bold" text-anchor="middle" fill="#000" stroke="#000" stroke-width="0.35">Control</text>
<text x="349.8" y="737.1" font-family="Liberation Sans" font-size="11.6" font-weight="bold" text-anchor="middle" fill="#000" stroke="#000" stroke-width="0.35">Glucagon</text>
<line x1="459.9" y1="560.3" x2="459.9" y2="716.85" stroke="#000" stroke-width="1.5"/>
<line x1="456" y1="716.1" x2="578.9" y2="716.1" stroke="#000" stroke-width="1.5"/>
<line x1="455.8" y1="716.1" x2="459.9" y2="716.1" stroke="#000" stroke-width="1.5"/>
<text x="454.5" y="720.0" font-family="Liberation Sans" font-size="11" font-weight="bold" text-anchor="end" fill="#000" stroke="#000" stroke-width="0.35">0</text>
<line x1="455.8" y1="664.1" x2="459.9" y2="664.1" stroke="#000" stroke-width="1.5"/>
<text x="454.5" y="668.0" font-family="Liberation Sans" font-size="11" font-weight="bold" text-anchor="end" fill="#000" stroke="#000" stroke-width="0.35">2</text>
<line x1="455.8" y1="612.1" x2="459.9" y2="612.1" stroke="#000" stroke-width="1.5"/>
<text x="454.5" y="616.0" font-family="Liberation Sans" font-size="11" font-weight="bold" text-anchor="end" fill="#000" stroke="#000" stroke-width="0.35">4</text>
<line x1="455.8" y1="560.1" x2="459.9" y2="560.1" stroke="#000" stroke-width="1.5"/>
<text x="454.5" y="564.0" font-family="Liberation Sans" font-size="11" font-weight="bold" text-anchor="end" fill="#000" stroke="#000" stroke-width="0.35">6</text>
<text transform="translate(421.4,637.3) rotate(-90)" font-family="Liberation Sans" font-size="12.9" font-weight="bold" text-anchor="middle" dominant-baseline="central" fill="#000" stroke="#000" stroke-width="0.35">Relative&#160; mRNA Level</text>
<text x="525.5" y="563.2" font-family="Liberation Sans" font-size="12.2" font-weight="bold" text-anchor="middle" fill="#000" stroke="#000" stroke-width="0.35">miR-185&#8201;-5p</text>
<line x1="490.3" y1="686" x2="490.3" y2="690.2" stroke="#000" stroke-width="1.8"/>
<line x1="480.65000000000003" y1="686" x2="499.95" y2="686" stroke="#000" stroke-width="1.8"/>
<rect x="469.90000000000003" y="690.2" width="40.8" height="25.899999999999977" fill="#ffffff" stroke="#000" stroke-width="1.8"/>
<line x1="490.3" y1="716.1" x2="490.3" y2="720" stroke="#000" stroke-width="1.5"/>
<line x1="549.8" y1="576.4" x2="549.8" y2="588.8" stroke="#000" stroke-width="1.8"/>
<line x1="540.15" y1="576.4" x2="559.4499999999999" y2="576.4" stroke="#000" stroke-width="1.8"/>
<rect x="529.4" y="588.8" width="40.8" height="127.30000000000007" fill="#555555" stroke="#000" stroke-width="1.8"/>
<line x1="549.8" y1="716.1" x2="549.8" y2="720" stroke="#000" stroke-width="1.5"/>
<text x="489.9" y="733.3" font-family="Liberation Sans" font-size="11.4" font-weight="bold" text-anchor="middle" fill="#000" stroke="#000" stroke-width="0.35">Control</text>
<text x="549.8" y="733.3" font-family="Liberation Sans" font-size="11.5" font-weight="bold" text-anchor="middle" fill="#000" stroke="#000" stroke-width="0.35">Insulin</text>
<text x="550.8" y="577.8" font-family="Liberation Sans" font-size="14" text-anchor="middle" letter-spacing="2.1" fill="#000" stroke="#000" stroke-width="0.45">***</text>
</svg>
</body></html>
